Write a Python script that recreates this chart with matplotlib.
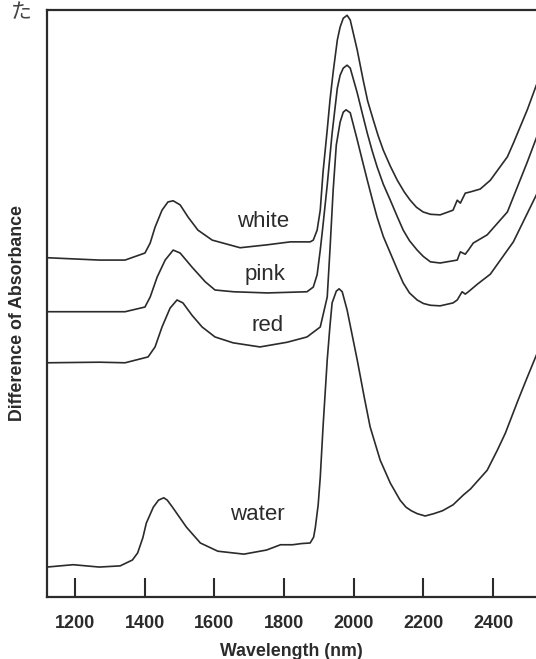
import numpy as np
import matplotlib.pyplot as plt

plt.rcParams['font.family'] = ['Liberation Sans', 'DejaVu Sans']

# wavelength (nm) and difference of absorbance (arbitrary units)
water_nm = [1120, 1195, 1270, 1330, 1365, 1380, 1395, 1405, 1425, 1440, 1455, 1465,
            1480, 1500, 1520, 1560, 1610, 1685, 1750, 1790, 1825, 1850, 1875, 1885,
            1890, 1898, 1904, 1912, 1924, 1932, 1938, 1950, 1958, 1967, 1981, 2010,
            2030, 2047, 2076, 2105, 2133, 2150, 2165, 2182, 2205, 2230, 2255, 2285,
            2315, 2335, 2383, 2412, 2435, 2472, 2495, 2524]
water_ab = [0.051, 0.055, 0.051, 0.053, 0.063, 0.075, 0.101, 0.126, 0.153, 0.165, 0.169, 0.165,
            0.153, 0.136, 0.119, 0.092, 0.078, 0.073, 0.080, 0.089, 0.089, 0.091, 0.092, 0.102,
            0.119, 0.157, 0.204, 0.290, 0.404, 0.463, 0.501, 0.521, 0.525, 0.520, 0.489, 0.404,
            0.341, 0.290, 0.233, 0.194, 0.165, 0.153, 0.147, 0.142, 0.138, 0.142, 0.147, 0.157,
            0.174, 0.184, 0.216, 0.250, 0.279, 0.336, 0.370, 0.412]

white_nm = [1120, 1270, 1344, 1401, 1416, 1430, 1450, 1467, 1482, 1502, 1525, 1553,
            1594, 1674, 1752, 1818, 1875, 1884, 1895, 1904, 1912, 1924, 1932, 1941,
            1953, 1961, 1970, 1981, 1990, 2010, 2027, 2040, 2056, 2070, 2085, 2105,
            2125, 2145, 2162, 2180, 2199, 2220, 2248, 2285, 2297, 2306, 2320, 2334,
            2363, 2392, 2441, 2458, 2498, 2524]
white_ab = [0.578, 0.574, 0.574, 0.586, 0.603, 0.630, 0.659, 0.673, 0.675, 0.668, 0.647, 0.625,
            0.608, 0.595, 0.600, 0.605, 0.605, 0.608, 0.625, 0.659, 0.724, 0.796, 0.847, 0.894,
            0.949, 0.971, 0.986, 0.991, 0.983, 0.932, 0.881, 0.845, 0.813, 0.786, 0.761, 0.734,
            0.710, 0.690, 0.676, 0.664, 0.656, 0.652, 0.651, 0.659, 0.676, 0.671, 0.688, 0.690,
            0.695, 0.710, 0.750, 0.773, 0.830, 0.872]

pink_nm = [1120, 1270, 1344, 1401, 1416, 1436, 1459, 1482, 1502, 1536, 1574, 1602,
           1655, 1752, 1866, 1884, 1895, 1904, 1912, 1924, 1938, 1953, 1961, 1970,
           1981, 1990, 2010, 2025, 2039, 2053, 2067, 2085, 2105, 2125, 2142, 2160,
           2182, 2200, 2220, 2248, 2297, 2306, 2320, 2329, 2343, 2383, 2441, 2498,
           2524]
pink_ab = [0.486, 0.486, 0.486, 0.494, 0.511, 0.545, 0.574, 0.591, 0.586, 0.562, 0.537, 0.523,
           0.520, 0.518, 0.520, 0.528, 0.549, 0.591, 0.634, 0.702, 0.790, 0.867, 0.889, 0.901,
           0.906, 0.901, 0.859, 0.823, 0.790, 0.760, 0.733, 0.703, 0.676, 0.648, 0.625, 0.607,
           0.591, 0.580, 0.571, 0.569, 0.574, 0.588, 0.584, 0.591, 0.603, 0.617, 0.656, 0.741,
           0.782]

red_nm = [1120, 1270, 1344, 1410, 1430, 1450, 1473, 1493, 1510, 1536, 1565, 1602,
          1654, 1731, 1809, 1866, 1904, 1924, 1932, 1941, 1950, 1961, 1970, 1978,
          1990, 2010, 2025, 2039, 2053, 2067, 2085, 2105, 2125, 2142, 2160, 2182,
          2200, 2220, 2248, 2285, 2297, 2311, 2320, 2329, 2355, 2392, 2458, 2524]
red_ab = [0.399, 0.400, 0.399, 0.409, 0.426, 0.460, 0.492, 0.506, 0.501, 0.480, 0.460, 0.443,
          0.433, 0.426, 0.434, 0.443, 0.460, 0.511, 0.593, 0.693, 0.770, 0.809, 0.826, 0.830,
          0.825, 0.779, 0.743, 0.710, 0.678, 0.647, 0.614, 0.586, 0.558, 0.535, 0.518, 0.506,
          0.500, 0.497, 0.496, 0.501, 0.506, 0.520, 0.516, 0.520, 0.533, 0.550, 0.605, 0.685]

labels = ['white', 'pink', 'red', 'water']
label_nm = [1740, 1746, 1752, 1723]
label_ab = [0.639, 0.549, 0.463, 0.140]

xticks = [1200, 1400, 1600, 1800, 2000, 2200, 2400]

ink = '#2b2b2b'

fig = plt.figure(figsize=(5.36, 6.59), dpi=100)
ax = fig.add_axes([0.0877, 0.0941, 0.9123, 0.8907])

for nm, ab in [(water_nm, water_ab), (white_nm, white_ab), (pink_nm, pink_ab), (red_nm, red_ab)]:
    ax.plot(nm, ab, color=ink, lw=1.2, solid_joinstyle='round')

for t, x, y in zip(labels, label_nm, label_ab):
    ax.text(x, y, t, fontsize=16, color=ink, ha='center', va='center')

ax.set_xlim(1120, 2523)
ax.set_ylim(0, 1)
ax.spines['right'].set_visible(False)
for s in ['left', 'top', 'bottom']:
    ax.spines[s].set_linewidth(1.6)
    ax.spines[s].set_color(ink)

ax.set_xticks(xticks)
ax.set_xticklabels([str(v) for v in xticks], fontsize=13, fontweight='bold', color=ink)
ax.tick_params(axis='x', direction='in', length=14, width=1.5, color=ink, pad=13)
ax.set_yticks([])

ax.set_xlabel('Wavelength (nm)', fontsize=12.8, fontweight='bold', color=ink, labelpad=8)
ax.set_ylabel('Difference of Absorbance', fontsize=12.8, fontweight='bold', color=ink)
ax.yaxis.set_label_coords(-0.043, 0.484)

fig.text(21 / 536, 1 - 12 / 659, 'た', fontsize=15, color='#444444',
         family=['Noto Sans CJK JP', 'DejaVu Sans'], ha='center', va='center')

fig.savefig('out.png', dpi=100)
